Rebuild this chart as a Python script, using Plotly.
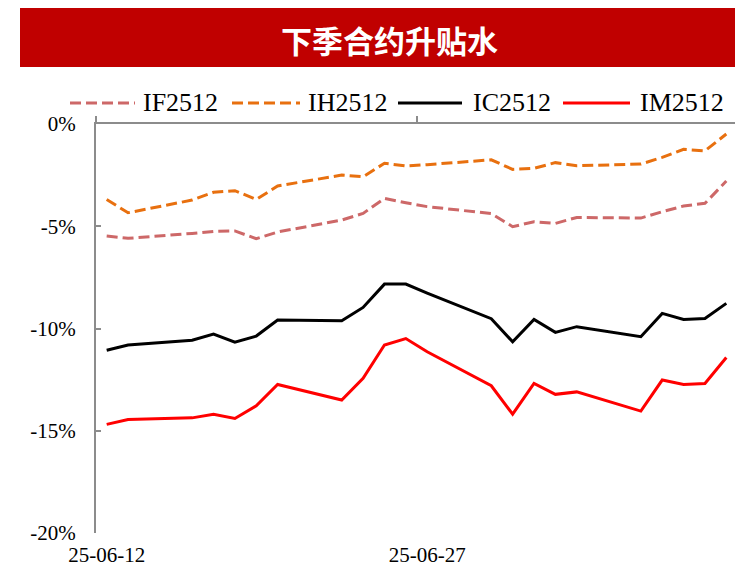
import plotly.graph_objects as go

dates = ["2025-06-12", "2025-06-13", "2025-06-16", "2025-06-17", "2025-06-18",
         "2025-06-19", "2025-06-20", "2025-06-23", "2025-06-24", "2025-06-25",
         "2025-06-26", "2025-06-27", "2025-06-30", "2025-07-01", "2025-07-02",
         "2025-07-03", "2025-07-04", "2025-07-07", "2025-07-08", "2025-07-09",
         "2025-07-10", "2025-07-11"]

if2512 = [-5.48, -5.59, -5.35, -5.25, -5.23, -5.61, -5.28, -4.70, -4.37, -3.64,
          -3.85, -4.04, -4.38, -5.02, -4.78, -4.86, -4.57, -4.60, -4.29, -4.01,
          -3.88, -2.79]
ih2512 = [-3.69, -4.34, -3.72, -3.34, -3.26, -3.69, -3.03, -2.50, -2.58, -1.92,
          -2.05, -1.99, -1.75, -2.22, -2.17, -1.89, -2.04, -1.96, -1.63, -1.24,
          -1.31, -0.49]
ic2512 = [-11.06, -10.81, -10.57, -10.27, -10.67, -10.37, -9.59, -9.62, -8.97, -7.83,
          -7.83, -8.27, -9.52, -10.65, -9.56, -10.19, -9.91, -10.40, -9.26, -9.56,
          -9.51, -8.77]
im2512 = [-14.69, -14.45, -14.37, -14.20, -14.40, -13.78, -12.74, -13.50, -12.44, -10.81,
          -10.49, -11.14, -12.80, -14.19, -12.69, -13.22, -13.10, -14.04, -12.52, -12.74,
          -12.69, -11.42]

series_names = ["IF2512", "IH2512", "IC2512", "IM2512"]
x_tick_vals = ["2025-06-12", "2025-06-27"]
x_tick_text = ["25-06-12", "25-06-27"]
x_boundary_ticks = ["2025-06-11 12:00", "2025-06-26 12:00", "2025-07-11 12:00"]
x_range = ["2025-06-11 12:00", "2025-07-11 12:00"]
y_tick_vals = [0, -5, -10, -15, -20]
y_tick_text = ["0%", "-5%", "-10%", "-15%", "-20%"]
title_text = "下季合约升贴水"

SERIF = "Liberation Serif, Times New Roman, serif"
AXIS_GREY = "#8C8C8C"

styles = [
    dict(color="#CD6868", width=3, dash="11px,5px"),
    dict(color="#E8700F", width=3, dash="11px,5px"),
    dict(color="#000000", width=3),
    dict(color="#FF0000", width=3),
]

fig = go.Figure()
for name, vals, st in zip(series_names, [if2512, ih2512, ic2512, im2512], styles):
    fig.add_trace(go.Scatter(x=dates, y=vals, mode="lines", name=name, line=st,
                             showlegend=False))

# invisible trace to host the top (zero-line) axis
fig.add_trace(go.Scatter(x=[dates[0]], y=[0], xaxis="x2", mode="markers",
                         marker=dict(opacity=0), showlegend=False, hoverinfo="skip"))

# page has an 8px body margin: figure pixel = page pixel - 8
OFF = 8
W, H = 743 - OFF, 570 - OFF
L, T = 96 - OFF, 124 - OFF
R = W - (737 - OFF)
B = H - (533 - OFF)
pw, ph = W - L - R, H - T - B

def px_x(p):  # page px -> paper
    return (p - OFF - L) / pw

def px_y(p):
    return (H - B - (p - OFF)) / ph

shapes = [dict(type="rect", xref="paper", yref="paper",
               x0=px_x(20), x1=px_x(760), y0=px_y(67), y1=px_y(8),
               fillcolor="#C00000", line=dict(width=0), layer="below")]
annotations = [dict(text="<b>" + title_text + "</b>", xref="paper", yref="paper",
                    x=px_x(389), y=px_y(39), xanchor="center", yanchor="middle",
                    showarrow=False,
                    font=dict(family="Noto Sans CJK SC", size=31, color="white"))]

# legend drawn as line samples + labels
legend_sample_px = [(70, 135), (232, 300), (398, 462), (563, 630)]
legend_text_px = [142, 307, 472, 639]
legend_y_px = 103
for name, st, (a, b), tx in zip(series_names, styles, legend_sample_px, legend_text_px):
    shapes.append(dict(type="line", xref="paper", yref="paper",
                       x0=px_x(a), x1=px_x(b), y0=px_y(legend_y_px), y1=px_y(legend_y_px),
                       line=dict(color=st["color"], width=st["width"],
                                 dash=st.get("dash", "solid"))))
    annotations.append(dict(text=name, xref="paper", yref="paper",
                            x=px_x(tx), y=px_y(legend_y_px), xanchor="left",
                            yanchor="middle", showarrow=False, borderpad=0,
                            font=dict(family=SERIF, size=26, color="#000000")))

fig.update_layout(
    width=W, height=H,
    margin=dict(l=L, r=R, t=T, b=B, autoexpand=False),
    paper_bgcolor="white", plot_bgcolor="white",
    font=dict(family=SERIF, size=21, color="#000000"),
    showlegend=False,
    xaxis=dict(type="date", range=x_range, tickvals=x_tick_vals, ticktext=x_tick_text,
               showgrid=False, zeroline=False, showline=False, ticks="",
               tickfont=dict(family=SERIF, size=21), ticklabelstandoff=7,
               automargin=False),
    xaxis2=dict(type="date", range=x_range, overlaying="x", side="top", anchor="y",
                tickvals=x_boundary_ticks, showticklabels=False, showgrid=False,
                zeroline=False, showline=True, linecolor=AXIS_GREY, linewidth=2,
                ticks="outside", ticklen=6, tickwidth=2, tickcolor=AXIS_GREY,
                automargin=False),
    yaxis=dict(range=[-20, 0], tickvals=y_tick_vals, ticktext=y_tick_text,
               showgrid=False, zeroline=False, showline=True, linecolor=AXIS_GREY,
               linewidth=2, ticks="inside", ticklen=5, tickwidth=2, tickcolor=AXIS_GREY,
               tickfont=dict(family=SERIF, size=21), ticklabelstandoff=14,
               automargin=False),
    shapes=shapes,
    annotations=annotations,
)

fig.write_html("out.html")
